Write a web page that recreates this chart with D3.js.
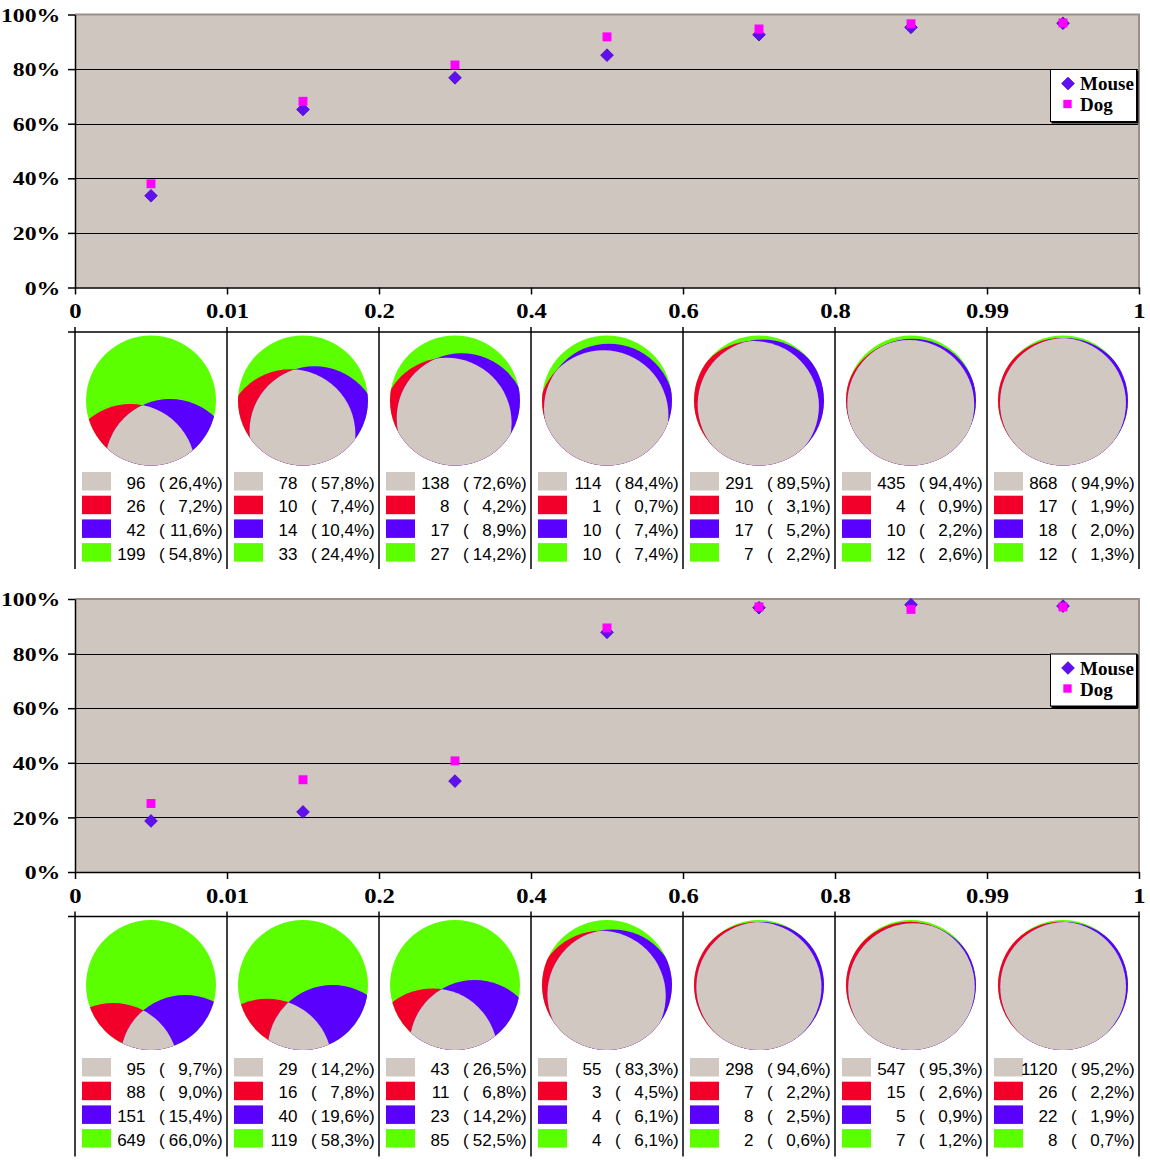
<!DOCTYPE html>
<html><head><meta charset="utf-8">
<script src="https://cdn.jsdelivr.net/npm/d3@7"></script>
<style>html,body{margin:0;padding:0;background:#fff;}svg{display:block;}</style>
</head><body>
<script>
// ---------- DATA ----------
const binLabels = ["0","0.01","0.2","0.4","0.6","0.8","0.99","1"];
const yTicks = [0,20,40,60,80,100];
const seriesNames = ["Mouse","Dog"];

// top panel
const topMouse = [33.6,65.2,76.8,85.1,92.6,95.3,96.8];
const topDog   = [38.0,68.2,81.5,91.8,94.7,96.6,96.9];
const topGray  = [96,78,138,114,291,435,868];
const topRed   = [26,10,8,1,10,4,17];
const topBlue  = [42,14,17,10,17,10,18];
const topGreen = [199,33,27,10,7,12,12];
const topGrayPct  = [26.4,57.8,72.6,84.4,89.5,94.4,94.9];
const topRedPct   = [7.2,7.4,4.2,0.7,3.1,0.9,1.9];
const topBluePct  = [11.6,10.4,8.9,7.4,5.2,2.2,2.0];
const topGreenPct = [54.8,24.4,14.2,7.4,2.2,2.6,1.3];

// bottom panel
const botMouse = [18.7,22.0,33.3,87.8,96.8,97.9,97.4];
const botDog   = [25.1,33.8,40.7,89.4,97.1,96.2,97.1];
const botGray  = [95,29,43,55,298,547,1120];
const botRed   = [88,16,11,3,7,15,26];
const botBlue  = [151,40,23,4,8,5,22];
const botGreen = [649,119,85,4,2,7,8];
const botGrayPct  = [9.7,14.2,26.5,83.3,94.6,95.3,95.2];
const botRedPct   = [9.0,7.8,6.8,4.5,2.2,2.6,2.2];
const botBluePct  = [15.4,19.6,14.2,6.1,2.5,0.9,1.9];
const botGreenPct = [66.0,58.3,52.5,6.1,0.6,1.2,0.7];

// ---------- STYLE ----------
const C_GRAY = "#d0c8c1", C_RED = "#f2002a", C_BLUE = "#5a00ff", C_GREEN = "#5cff00";
const C_BG = "#cfc7bf", C_MOUSE = "#6010f0", C_DOG = "#ff00ff";
const SERIF = "'Liberation Serif','Times New Roman',serif";
const SANS = "'Liberation Sans',Arial,sans-serif";

const svg = d3.select("body").append("svg").attr("width",1150).attr("height",1160);
const defs = svg.append("defs");

// ---------- glyph geometry solver ----------
const NG = 180, gridPts = [];
for (let i=0;i<NG;i++) for (let j=0;j<NG;j++){
  const x=-1+(i+0.5)*2/NG, y=-1+(j+0.5)*2/NG;
  if (x*x+y*y<=1) gridPts.push([x,y]);
}
function lensFrac(d){ return (2*Math.acos(d/2)-(d/2)*Math.sqrt(4-d*d))/Math.PI; }
function solveD(f){ let lo=0,hi=2; for(let k=0;k<50;k++){const m=(lo+hi)/2; if(lensFrac(m)>f) lo=m; else hi=m;} return (lo+hi)/2; }
function triFrac(ax,ay,bx,by){ let c=0; for(const [x,y] of gridPts){ if((x-ax)*(x-ax)+(y-ay)*(y-ay)<=1 && (x-bx)*(x-bx)+(y-by)*(y-by)<=1) c++; } return c/gridPts.length; }
function geom(gp, rp, bp){
  const dA = solveD((gp+rp)/100), dB = solveD((gp+bp)/100), target = gp/100;
  const cen = t => [-dA*Math.sin(t), dA*Math.cos(t), dB*Math.sin(t), dB*Math.cos(t)];
  let lo=0, hi=Math.PI*0.95;
  for(let k=0;k<28;k++){ const m=(lo+hi)/2; const c=cen(m); if(triFrac(c[0],c[1],c[2],c[3])>target) lo=m; else hi=m; }
  return cen((lo+hi)/2);
}

const fmtPct = v => d3.format(".1f")(v).replace(".",",");

let uid = 0;
function panel(oy, mouse, dog, gray, red, blue, green, grayPct, redPct, bluePct, greenPct){
  const g = svg.append("g");
  const X0 = 75, X1 = 1139;
  const y = d3.scaleLinear().domain([0,100]).range([oy+287.5, oy+14.5]);
  const xp = d3.scalePoint().domain(binLabels).range([X0, X1]);
  const xb = d3.scaleBand().domain(d3.range(gray.length)).range([X0, X1]);

  // plot background
  g.append("rect").attr("x",X0).attr("y",y(100)).attr("width",X1-X0).attr("height",y(0)-y(100)).attr("fill",C_BG);
  // gridlines
  g.selectAll(".grid").data(yTicks.filter(d=>d>0&&d<100)).join("line")
    .attr("x1",X0).attr("x2",X1).attr("y1",d=>Math.round(y(d))+0.5).attr("y2",d=>Math.round(y(d))+0.5)
    .attr("stroke","#000").attr("stroke-width",1);
  // top/right border
  g.append("path").attr("d",`M${X0},${y(100)}H${X1}V${y(0)}`).attr("fill","none").attr("stroke","#9a908a").attr("stroke-width",2);

  // axes
  const ya = g.append("g").attr("transform",`translate(${X0},0)`)
    .call(d3.axisLeft(y).tickValues(yTicks).tickFormat(d=>d+"%").tickSize(7).tickSizeOuter(0).tickPadding(5));
  ya.select(".domain").attr("stroke","#000").attr("stroke-width",1.5);
  ya.selectAll(".tick line").attr("stroke","#000").attr("stroke-width",1.5);
  ya.selectAll("text").attr("font-family",SERIF).attr("font-weight","bold").attr("font-size",19.5).attr("fill","#000")
    .attr("dy","0.34em").attr("transform","scale(1.22,1)");

  const xa = g.append("g").attr("transform",`translate(0,${y(0)})`)
    .call(d3.axisBottom(xp).tickSize(7).tickSizeOuter(0).tickPadding(9));
  xa.select(".domain").attr("stroke","#000").attr("stroke-width",1.5);
  xa.selectAll(".tick line").attr("stroke","#000").attr("stroke-width",1.5);
  xa.selectAll("text").attr("font-family",SERIF).attr("font-weight","bold").attr("font-size",20.5).attr("fill","#000")
    .attr("transform","scale(1.2,1)");

  // markers
  const cx = i => xb(i)+xb.bandwidth()/2;
  const diamond = d3.symbol(d3.symbolSquare, 80);
  const square = d3.symbol(d3.symbolSquare, 80);
  g.selectAll(".mouse").data(mouse).join("path")
    .attr("d",diamond).attr("transform",(d,i)=>`translate(${cx(i)},${y(d)}) rotate(45)`)
    .attr("fill",C_MOUSE).attr("stroke","#4a00c8").attr("stroke-width",0.8);
  g.selectAll(".dog").data(dog).join("path")
    .attr("d",square).attr("transform",(d,i)=>`translate(${cx(i)},${y(d)})`)
    .attr("fill",C_DOG);

  // legend
  const lg = g.append("g").attr("transform",`translate(1050.5,${oy+69.5})`);
  lg.append("rect").attr("width",86).attr("height",52).attr("fill","#fff").attr("stroke","#000").attr("stroke-width",1);
  lg.append("path").attr("d","M1,53H87V1").attr("fill","none").attr("stroke","#000").attr("stroke-width",2);
  lg.append("path").attr("d",diamond).attr("transform","translate(17.5,14) rotate(45)").attr("fill",C_MOUSE).attr("stroke","#4a00c8").attr("stroke-width",0.8);
  lg.append("path").attr("d",d3.symbol(d3.symbolSquare,70)).attr("transform","translate(17,34.5)").attr("fill",C_DOG);
  lg.selectAll(".lt").data(seriesNames).join("text")
    .attr("x",29.5).attr("y",(d,i)=>20.5+i*21).text(d=>d)
    .attr("font-family",SERIF).attr("font-weight","bold").attr("font-size",19).attr("fill","#000");

  // cell grid
  g.append("line").attr("x1",68).attr("x2",X1+1).attr("y1",oy+332).attr("y2",oy+332).attr("stroke","#000").attr("stroke-width",1.5);
  g.selectAll(".vl").data(binLabels).join("line")
    .attr("x1",d=>xp(d)).attr("x2",d=>xp(d)).attr("y1",oy+327).attr("y2",oy+569 + (oy>0?3:0))
    .attr("stroke","#000").attr("stroke-width",1.5);

  // glyphs
  const R = 65;
  gray.forEach((_,i)=>{
    const [ax,ay,bx,by] = geom(grayPct[i], redPct[i], bluePct[i]);
    const gx = cx(i), gy = oy+400.5;
    const id = "g"+(uid++);
    defs.append("clipPath").attr("id",id+"O").append("circle").attr("cx",gx).attr("cy",gy).attr("r",R);
    defs.append("clipPath").attr("id",id+"A").append("circle").attr("cx",gx+ax*R).attr("cy",gy+ay*R).attr("r",R);
    const gg = g.append("g");
    gg.append("circle").attr("cx",gx).attr("cy",gy).attr("r",R).attr("fill",C_GREEN);
    const inO = gg.append("g").attr("clip-path",`url(#${id}O)`);
    inO.append("circle").attr("cx",gx+ax*R).attr("cy",gy+ay*R).attr("r",R).attr("fill",C_RED);
    inO.append("circle").attr("cx",gx+bx*R).attr("cy",gy+by*R).attr("r",R).attr("fill",C_BLUE);
    inO.append("g").attr("clip-path",`url(#${id}A)`)
      .append("circle").attr("cx",gx+bx*R).attr("cy",gy+by*R).attr("r",R).attr("fill",C_GRAY);

    // table
    const x0 = xb(i);
    const rows = [[C_GRAY,gray[i],grayPct[i]],[C_RED,red[i],redPct[i]],[C_BLUE,blue[i],bluePct[i]],[C_GREEN,green[i],greenPct[i]]];
    rows.forEach((r,k)=>{
      const ry = oy + 472 + k*23.7 + (oy>0?1.5:0);
      g.append("rect").attr("x",x0+7).attr("y",ry).attr("width",29).attr("height",18.5).attr("fill",r[0]);
      const t = (x,txt,anchor)=>g.append("text").attr("x",x).attr("y",ry+16.5).attr("text-anchor",anchor)
        .attr("font-family",SANS).attr("font-size",17).attr("fill","#000").text(txt);
      t(x0+70.5, r[1], "end");
      t(x0+84, "(", "start");
      t(x0+142, fmtPct(r[2])+"%", "end");
      t(x0+142, ")", "start");
    });
  });
}

panel(0, topMouse, topDog, topGray, topRed, topBlue, topGreen, topGrayPct, topRedPct, topBluePct, topGreenPct);
panel(584.5, botMouse, botDog, botGray, botRed, botBlue, botGreen, botGrayPct, botRedPct, botBluePct, botGreenPct);
</script>
</body></html>
